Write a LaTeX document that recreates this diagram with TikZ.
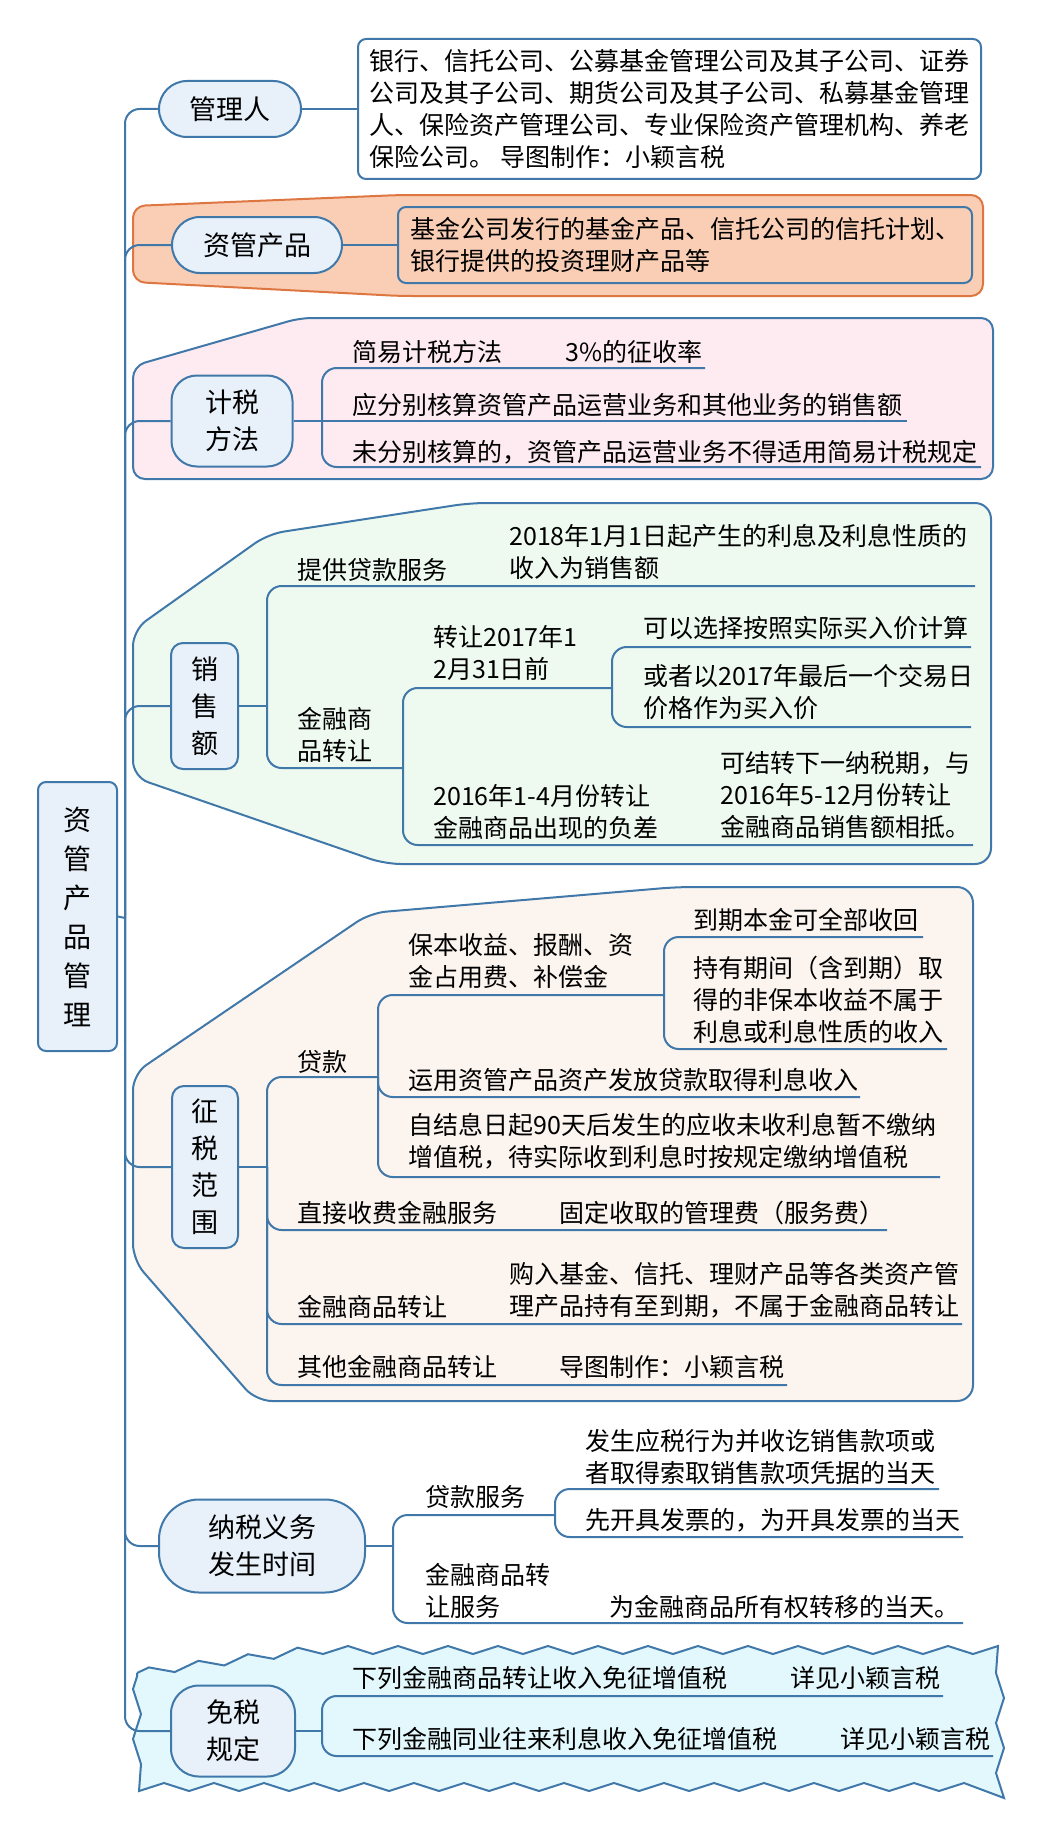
\documentclass[tikz,border=0pt]{standalone}
\usepackage{fontspec}
\setmainfont{Noto Sans CJK SC}
\usetikzlibrary{decorations.pathmorphing}

\definecolor{linkblue}{RGB}{64,120,170}
\definecolor{topicfill}{RGB}{232,241,250}
\definecolor{orangefill}{RGB}{249,206,181}
\definecolor{orangeline}{RGB}{222,118,66}
\definecolor{pinkfill}{RGB}{253,235,241}
\definecolor{greenfill}{RGB}{238,250,240}
\definecolor{peachfill}{RGB}{252,244,238}
\definecolor{cyanfill}{RGB}{226,248,253}

\newcommand{\leaffont}{\fontsize{18.75}{24}\selectfont}
\newcommand{\topicfont}{\fontsize{20.25}{27.75}\selectfont}
\newcommand{\rootfont}{\fontsize{21}{29.25}\selectfont}

\tikzset{
  link/.style={draw=linkblue, line width=1.5pt},
  elbow/.style={link, rounded corners=11pt},
  topic/.style={draw=linkblue, fill=topicfill, line width=1.5pt, align=center, inner sep=0pt, font=\topicfont},
  rootbox/.style={topic, font=\rootfont, minimum width=59.25pt, minimum height=201.75pt, rounded corners=6pt},
  notebox/.style={draw=linkblue, line width=1.5pt, align=left, inner xsep=8.25pt, rounded corners=6pt, font=\leaffont},
  leaf/.style={anchor=west, align=left, inner sep=0pt, font=\leaffont},
  zone/.style={draw=linkblue, line width=1.5pt},
}

\begin{document}
\begin{tikzpicture}[x=0.75pt,y=0.75pt,yscale=-1,xscale=1]
\useasboundingbox (0,0) rectangle (1045,1830);

%Boundary [资管产品]
\draw [zone, draw=orangeline, fill=orangefill, rounded corners=9pt] (133,245) -- (133,206) -- (400,195) -- (983,195) -- (983,296) -- (400,296) -- (133,282) -- cycle ;
%Boundary [计税方法]
\draw [zone, fill=pinkfill, rounded corners=9pt] (133,421) -- (133,366) -- (300,318) -- (993,318) -- (993,479) -- (133,479) -- cycle ;
%Boundary [销售额]
\draw [zone, fill=greenfill, rounded corners=12pt] (133,706) -- (133,630) -- (268,534) -- (470,503) -- (991,503) -- (991,864) -- (385,864) -- (133,777) -- cycle ;
%Boundary [征税范围]
\draw [zone, fill=peachfill, rounded corners=12pt] (133,1167) -- (133,1074) -- (370,913) -- (677,887) -- (973,887) -- (973,1401) -- (256,1401) -- (133,1260) -- cycle ;
%Boundary [免税规定]
\draw [zone, fill=cyanfill, decorate, decoration={zigzag, segment length=37.5pt, amplitude=3pt}] (137,1673) -- (310,1650) -- (1000,1650) -- (1000,1787) -- (137,1787) -- cycle ;

% Root
\node [rootbox] (root) at (77.5,916.5) {资\\管\\产\\品\\管\\理};

% Topics
\node [topic, minimum width=106.5pt, minimum height=42pt, rounded corners=21pt] (mgr) at (230,109) {管理人};
\node [topic, minimum width=127.5pt, minimum height=42pt, rounded corners=21pt] (prod) at (257,245) {资管产品};
\node [topic, minimum width=90.75pt, minimum height=68.25pt, rounded corners=19pt] (tax) at (232,421) {计税\\方法};
\node [topic, minimum width=50.25pt, minimum height=94.5pt, rounded corners=9pt] (sales) at (204.5,706) {销\\售\\额};
\node [topic, minimum width=49.5pt, minimum height=121.5pt, rounded corners=9pt] (scope) at (205,1167) {征\\税\\范\\围};
\node [topic, minimum width=154.5pt, minimum height=69.75pt, rounded corners=30pt] (due) at (262,1546) {纳税义务\\发生时间};
\node [topic, minimum width=93pt, minimum height=68.25pt, rounded corners=21pt] (exempt) at (233,1731) {免税\\规定};

% Trunk
\coordinate (trunk) at (125,918);
\draw [link] (root.east) -- (trunk);
\draw [elbow] (trunk) |- (mgr.west);
\draw [elbow] (trunk) |- (prod.west);
\draw [elbow] (trunk) |- (tax.west);
\draw [elbow] (trunk) |- (sales.west);
\draw [elbow] (trunk) |- (scope.west);
\draw [elbow] (trunk) |- (due.west);
\draw [elbow] (trunk) |- (exempt.west);

% 管理人
\node [notebox, fill=white, minimum width=467.25pt, minimum height=105pt] (mgrnote) at (669.5,109) {银行、信托公司、公募基金管理公司及其子公司、证券\\公司及其子公司、期货公司及其子公司、私募基金管理\\人、保险资产管理公司、专业保险资产管理机构、养老\\保险公司。 导图制作：小颖言税};
\draw [link] (mgr.east) -- (mgrnote.west);

% 资管产品
\node [notebox, fill=orangefill, minimum width=430.5pt, minimum height=57pt] (prodnote) at (685,245) {基金公司发行的基金产品、信托公司的信托计划、\\银行提供的投资理财产品等};
\draw [link] (prod.east) -- (prodnote.west);

% 计税方法
\coordinate (taxb) at (322,421);
\coordinate (k1u) at (705,368);
\coordinate (k2u) at (907,421);
\coordinate (k3u) at (981,467);
\draw [link] (tax.east) -- (taxb);
\draw [elbow] (taxb) |- (k1u);
\draw [link] (taxb) -- (k2u);
\draw [elbow] (taxb) |- (k3u);
\node [leaf] (k1) at (352,352) {简易计税方法};
\node [leaf] (k1g) at (565,352) {3\%的征收率};
\node [leaf] (k2) at (352,405) {应分别核算资管产品运营业务和其他业务的销售额};
\node [leaf] (k3) at (352,452) {未分别核算的，资管产品运营业务不得适用简易计税规定};

% 销售额
\coordinate (salesb) at (267,706);
\coordinate (s1u) at (975,586);
\coordinate (s2b) at (403,768);
\coordinate (s21b) at (612,688);
\coordinate (s211u) at (971,647);
\coordinate (s212u) at (971,727);
\coordinate (s22u) at (973,845);
\draw [link] (sales.east) -- (salesb);
\draw [elbow] (salesb) |- (s1u);
\draw [elbow] (salesb) |- (s2b);
\draw [elbow] (s2b) |- (s21b);
\draw [elbow] (s2b) |- (s22u);
\draw [elbow] (s21b) |- (s211u);
\draw [elbow] (s21b) |- (s212u);
\node [leaf] (s1) at (297,570) {提供贷款服务};
\node [leaf] (s1g) at (509,552) {2018年1月1日起产生的利息及利息性质的\\收入为销售额};
\node [leaf] (s2) at (297,735) {金融商\\品转让};
\node [leaf] (s21) at (433,653) {转让2017年1\\2月31日前};
\node [leaf] (s211) at (643,628) {可以选择按照实际买入价计算};
\node [leaf] (s212) at (643,692) {或者以2017年最后一个交易日\\价格作为买入价};
\node [leaf] (s22) at (433,812) {2016年1-4月份转让\\金融商品出现的负差};
\node [leaf] (s22g) at (720,795) {可结转下一纳税期，与\\2016年5-12月份转让\\金融商品销售额相抵。};

% 征税范围
\coordinate (scopeb) at (267,1167);
\coordinate (z1b) at (378,1077);
\coordinate (z11b) at (664,995);
\coordinate (z111u) at (923,937);
\coordinate (z112u) at (947,1049);
\coordinate (z12u) at (860,1097);
\coordinate (z13u) at (940,1177);
\coordinate (z2u) at (887,1230);
\coordinate (z3u) at (962,1324);
\coordinate (z4u) at (787,1385);
\draw [link] (scope.east) -- (scopeb);
\draw [elbow] (scopeb) |- (z1b);
\draw [elbow] (scopeb) |- (z2u);
\draw [elbow] (scopeb) |- (z3u);
\draw [elbow] (scopeb) |- (z4u);
\draw [elbow] (z1b) |- (z11b);
\draw [elbow] (z1b) |- (z12u);
\draw [elbow] (z1b) |- (z13u);
\draw [elbow] (z11b) |- (z111u);
\draw [elbow] (z11b) |- (z112u);
\node [leaf] (z1) at (297,1062) {贷款};
\node [leaf] (z11) at (408,961) {保本收益、报酬、资\\金占用费、补偿金};
\node [leaf] (z111) at (693,920) {到期本金可全部收回};
\node [leaf] (z112) at (693,1000) {持有期间（含到期）取\\得的非保本收益不属于\\利息或利息性质的收入};
\node [leaf] (z12) at (408,1080) {运用资管产品资产发放贷款取得利息收入};
\node [leaf] (z13) at (408,1141) {自结息日起90天后发生的应收未收利息暂不缴纳\\增值税，待实际收到利息时按规定缴纳增值税};
\node [leaf] (z2) at (297,1213) {直接收费金融服务};
\node [leaf] (z2g) at (559,1213) {固定收取的管理费（服务费）};
\node [leaf] (z3) at (297,1307) {金融商品转让};
\node [leaf] (z3g) at (509,1290) {购入基金、信托、理财产品等各类资产管\\理产品持有至到期，不属于金融商品转让};
\node [leaf] (z4) at (297,1367) {其他金融商品转让};
\node [leaf] (z4g) at (559,1367) {导图制作：小颖言税};

% 纳税义务发生时间
\coordinate (dueb) at (393,1546);
\coordinate (n1b) at (555,1515);
\coordinate (n11u) at (939,1489);
\coordinate (n12u) at (963,1537);
\coordinate (n2u) at (963,1623);
\draw [link] (due.east) -- (dueb);
\draw [elbow] (dueb) |- (n1b);
\draw [elbow] (dueb) |- (n2u);
\draw [elbow] (n1b) |- (n11u);
\draw [elbow] (n1b) |- (n12u);
\node [leaf] (n1) at (425,1497) {贷款服务};
\node [leaf] (n11) at (585,1457) {发生应税行为并收讫销售款项或\\者取得索取销售款项凭据的当天};
\node [leaf] (n12) at (585,1520) {先开具发票的，为开具发票的当天};
\node [leaf] (n2) at (425,1591) {金融商品转\\让服务};
\node [leaf] (n2g) at (609,1607) {为金融商品所有权转移的当天。};

% 免税规定
\coordinate (exemptb) at (322,1731);
\coordinate (e1u) at (943,1696);
\coordinate (e2u) at (993,1756);
\draw [link] (exempt.east) -- (exemptb);
\draw [elbow] (exemptb) |- (e1u);
\draw [elbow] (exemptb) |- (e2u);
\node [leaf] (e1) at (352,1678) {下列金融商品转让收入免征增值税};
\node [leaf] (e1g) at (790,1678) {详见小颖言税};
\node [leaf] (e2) at (352,1739) {下列金融同业往来利息收入免征增值税};
\node [leaf] (e2g) at (840,1739) {详见小颖言税};

\end{tikzpicture}
\end{document}
